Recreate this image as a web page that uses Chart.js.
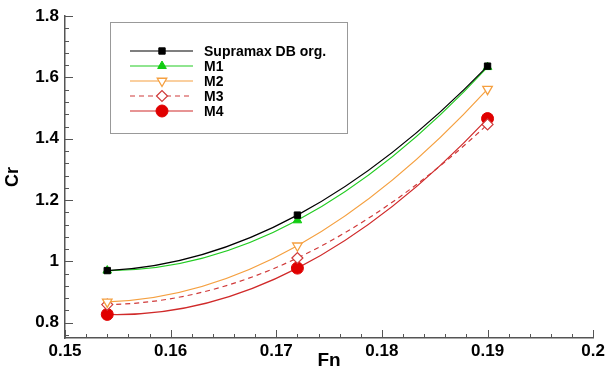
<!DOCTYPE html>
<html>
<head>
<meta charset="utf-8">
<script src="https://cdn.jsdelivr.net/npm/chart.js@4"></script>
<style>
  html, body { margin: 0; padding: 0; background: #fff; }
  #wrap { width: 608px; height: 372px; }
</style>
</head>
<body>
<div id="wrap"><canvas id="crChart"></canvas></div>
<script>
// Fn values where the runs were made
const fn = [0.154, 0.172, 0.19];

// Cr for each hull variant
const supramax = [0.970, 1.151, 1.637];
const m1 = [0.970, 1.134, 1.634];
const m2 = [0.868, 1.051, 1.562];
const m3 = [0.859, 1.011, 1.447];
const m4 = [0.827, 0.978, 1.466];

// axis ticks
const xTicks = [0.15, 0.16, 0.17, 0.18, 0.19, 0.2];
const yTicks = [0.8, 1, 1.2, 1.4, 1.6, 1.8];

const pts = ys => ys.map((y, i) => ({ x: fn[i], y: y }));

// curves in the original are smooth quadratic-looking fits through the 3 points,
// so set the bezier handles from the parabola's slopes (in data space)
const parabolaCurves = {
    id: 'parabolaCurves',
    beforeDatasetsDraw(chart) {
        const xs = chart.scales.x, ys = chart.scales.y;
        chart.data.datasets.forEach((ds, di) => {
            const meta = chart.getDatasetMeta(di);
            meta.dataset.updateControlPoints(chart.chartArea);
            const d = ds.data;
            if (d.length !== 3) return;
            const d01 = (d[1].y - d[0].y) / (d[1].x - d[0].x);
            const d12 = (d[2].y - d[1].y) / (d[2].x - d[1].x);
            const a = (d12 - d01) / (d[2].x - d[0].x);
            const slope = x => d01 + a * (2 * x - d[0].x - d[1].x);
            const p = meta.data;
            for (let i = 0; i < 2; i++) {
                const dx = (d[i + 1].x - d[i].x) / 3;
                p[i].cp2x = xs.getPixelForValue(d[i].x + dx);
                p[i].cp2y = ys.getPixelForValue(d[i].y + slope(d[i].x) * dx);
                p[i + 1].cp1x = xs.getPixelForValue(d[i + 1].x - dx);
                p[i + 1].cp1y = ys.getPixelForValue(d[i + 1].y - slope(d[i + 1].x) * dx);
            }
        });
    }
};

// inward major/minor ticks + the boxed legend
const tecplotLook = {
    id: 'tecplotLook',
    afterDraw(chart) {
        const ctx = chart.ctx;
        const xs = chart.scales.x, ys = chart.scales.y;
        const area = chart.chartArea;
        ctx.save();
        ctx.strokeStyle = '#555';
        ctx.lineWidth = 1;
        ctx.beginPath();
        for (let i = 0; i <= 25; i++) {
            const v = 0.15 + i * 0.002;
            const px = Math.round(xs.getPixelForValue(v)) + 0.5;
            const len = (i % 5 === 0) ? 8 : 4;
            ctx.moveTo(px, area.bottom);
            ctx.lineTo(px, area.bottom - len);
        }
        for (let i = 0; i <= 26; i++) {
            const v = 0.76 + i * 0.04;
            const py = Math.round(ys.getPixelForValue(v)) + 0.5;
            const major = yTicks.some(t => Math.abs(t - v) < 1e-6);
            ctx.moveTo(area.left, py);
            ctx.lineTo(area.left + (major ? 8 : 4), py);
        }
        ctx.stroke();

        // legend box
        ctx.strokeStyle = '#999';
        ctx.lineWidth = 1;
        ctx.strokeRect(110.5, 22.5, 237, 111);
        ctx.font = 'bold 14px "Liberation Sans", Arial, sans-serif';
        ctx.textBaseline = 'middle';
        chart.data.datasets.forEach((ds, i) => {
            const y = 51 + i * 15;
            ctx.save();
            ctx.strokeStyle = ds.borderColor;
            ctx.lineWidth = ds.borderWidth;
            ctx.setLineDash(ds.borderDash || []);
            ctx.beginPath();
            ctx.moveTo(130, y);
            ctx.lineTo(193, y);
            ctx.stroke();
            ctx.setLineDash([]);
            ctx.fillStyle = ds.pointBackgroundColor;
            ctx.strokeStyle = ds.pointBorderColor;
            ctx.lineWidth = ds.pointBorderWidth;
            Chart.helpers.drawPoint(ctx, {
                pointStyle: ds.pointStyle,
                radius: ds.pointRadius,
                rotation: ds.pointRotation || 0,
                borderWidth: ds.pointBorderWidth
            }, 162, y);
            ctx.restore();
            ctx.fillStyle = '#000';
            ctx.fillText(ds.label, 204, y + 1);
        });
        ctx.restore();
    }
};

const ctx = document.getElementById('crChart').getContext('2d');
const crChart = new Chart(ctx, {
    type: 'line',
    data: {
        datasets: [
            {
                label: 'Supramax DB org.',
                data: pts(supramax),
                borderColor: '#000000',
                borderWidth: 1.2,
                pointStyle: 'rect',
                pointRadius: 4.5,
                pointBackgroundColor: '#000000',
                pointBorderColor: '#000000',
                pointBorderWidth: 1
            },
            {
                label: 'M1',
                data: pts(m1),
                borderColor: '#22cc22',
                borderWidth: 1.2,
                pointStyle: 'triangle',
                pointRadius: 5,
                pointBackgroundColor: '#11cc11',
                pointBorderColor: '#11cc11',
                pointBorderWidth: 1
            },
            {
                label: 'M2',
                data: pts(m2),
                borderColor: '#f5a040',
                borderWidth: 1.2,
                pointStyle: 'triangle',
                pointRotation: 180,
                pointRadius: 5.5,
                pointBackgroundColor: '#ffffff',
                pointBorderColor: '#f5a040',
                pointBorderWidth: 1.3
            },
            {
                label: 'M3',
                data: pts(m3),
                borderColor: '#d03a3a',
                borderWidth: 1.2,
                borderDash: [5, 4],
                pointStyle: 'rectRot',
                pointRadius: 5.5,
                pointBackgroundColor: '#ffffff',
                pointBorderColor: '#d03a3a',
                pointBorderWidth: 1.2
            },
            {
                label: 'M4',
                data: pts(m4),
                borderColor: '#d02a2a',
                borderWidth: 1.2,
                pointStyle: 'circle',
                pointRadius: 6,
                pointBackgroundColor: '#e00000',
                pointBorderColor: '#e00000',
                pointBorderWidth: 1
            }
        ]
    },
    options: {
        responsive: true,
        maintainAspectRatio: false,
        animation: false,
        elements: { line: { tension: 0.4 } },
        layout: { padding: { top: 15, right: 14, left: 0, bottom: 0 } },
        plugins: {
            legend: { display: false },
            tooltip: { enabled: false }
        },
        scales: {
            x: {
                type: 'linear',
                min: 0.15,
                max: 0.2,
                afterBuildTicks: s => { s.ticks = xTicks.map(v => ({ value: v })); },
                afterFit: s => { s.height = 34; },
                grid: { drawOnChartArea: false, drawTicks: false },
                border: { color: '#555', width: 1.5 },
                ticks: {
                    padding: 3,
                    color: '#000',
                    font: { family: '"Liberation Sans", Arial, sans-serif', size: 17, weight: 'bold' },
                    callback: v => String(v)
                },
                title: {
                    display: true,
                    text: 'Fn',
                    color: '#000',
                    padding: 0,
                    font: { family: '"Liberation Sans", Arial, sans-serif', size: 19, weight: 'bold' }
                }
            },
            y: {
                type: 'linear',
                min: 0.75,
                max: 1.8,
                afterBuildTicks: s => { s.ticks = yTicks.map(v => ({ value: v })); },
                afterFit: s => { s.width = 65; },
                grid: { drawOnChartArea: false, drawTicks: false },
                border: { color: '#555', width: 1.5 },
                ticks: {
                    padding: 6,
                    color: '#000',
                    font: { family: '"Liberation Sans", Arial, sans-serif', size: 17, weight: 'bold' },
                    callback: v => String(v)
                },
                title: {
                    display: true,
                    text: 'Cr',
                    color: '#000',
                    padding: { top: 2, bottom: 0 },
                    font: { family: '"Liberation Sans", Arial, sans-serif', size: 18, weight: 'bold' }
                }
            }
        }
    },
    plugins: [parabolaCurves, tecplotLook]
});
</script>
</body>
</html>
